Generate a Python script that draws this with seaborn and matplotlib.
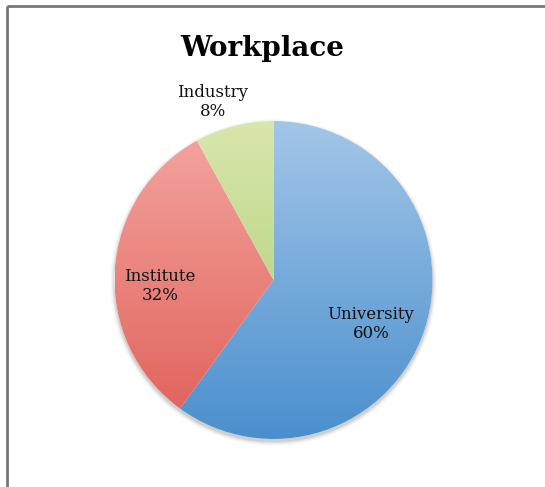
import numpy as np
import matplotlib
matplotlib.use("Agg")
import matplotlib.pyplot as plt
from matplotlib.colors import LinearSegmentedColormap
from matplotlib.patches import Circle
import seaborn as sns

# Workplace distribution
categories = ["University", "Institute", "Industry"]
shares = [60, 32, 8]
top_colors = ["#a3c6e8", "#f5a6a2", "#d9e6ad"]
bottom_colors = ["#4a8fcd", "#df5f57", "#a6cb6c"]

sns.set_theme(style="white")
plt.rcParams["font.family"] = ["DejaVu Serif"]

W, H = 545, 487
fig = plt.figure(figsize=(W / 100, H / 100), dpi=100)
ax = fig.add_axes([0, 0, 1, 1])

cx, cy, r = 273.5, H - 280, 159

# soft drop shadow under the pie
for i, a in enumerate(np.linspace(0.05, 0.012, 6)):
    ax.add_patch(Circle((cx, cy - 2.5), r + 0.5 + i * 0.8, color="black",
                        alpha=a, lw=0, zorder=1))
ax.add_patch(Circle((cx, cy), r, color="white", lw=0, zorder=1.5))

wedges, _ = ax.pie(shares, startangle=90, counterclock=False,
                   center=(cx, cy), radius=r, frame=True,
                   wedgeprops=dict(linewidth=0))

# vertical gradient fill for each wedge
grad = np.linspace(1, 0, 256).reshape(-1, 1)
for w, c0, c1 in zip(wedges, top_colors, bottom_colors):
    w.set_facecolor("none")
    w.set_zorder(2)
    cmap = LinearSegmentedColormap.from_list("g", [c1, c0])
    im = ax.imshow(grad, cmap=cmap, extent=(cx - r, cx + r, cy - r, cy + r),
                   aspect="auto", zorder=2, interpolation="bilinear",
                   origin="upper", vmin=0, vmax=1)
    im.set_clip_path(w)

ax.set_xlim(0, W)
ax.set_ylim(0, H)
ax.set_aspect("equal")
ax.axis("off")

# title and slice labels
ax.text(262, H - 49, "Workplace", ha="center", va="center",
        fontsize=20, fontweight="bold", color="black", zorder=5)
label_pos = {"University": (371, 324), "Institute": (160, 286), "Industry": (213, 102)}
for name, val in zip(categories, shares):
    x, y = label_pos[name]
    ax.text(x, H - y, f"{name}\n{val}%", ha="center", va="center",
            fontsize=12, linespacing=1.2, color="#111111", zorder=5)

# page frame
ax.plot([6.5, 6.5], [0, H - 6], color="#777777", lw=2, solid_capstyle="butt", zorder=6)
ax.plot([6.5, W], [H - 6, H - 6], color="#777777", lw=2, solid_capstyle="butt", zorder=6)

fig.savefig("out.png", dpi=100, facecolor="white")
